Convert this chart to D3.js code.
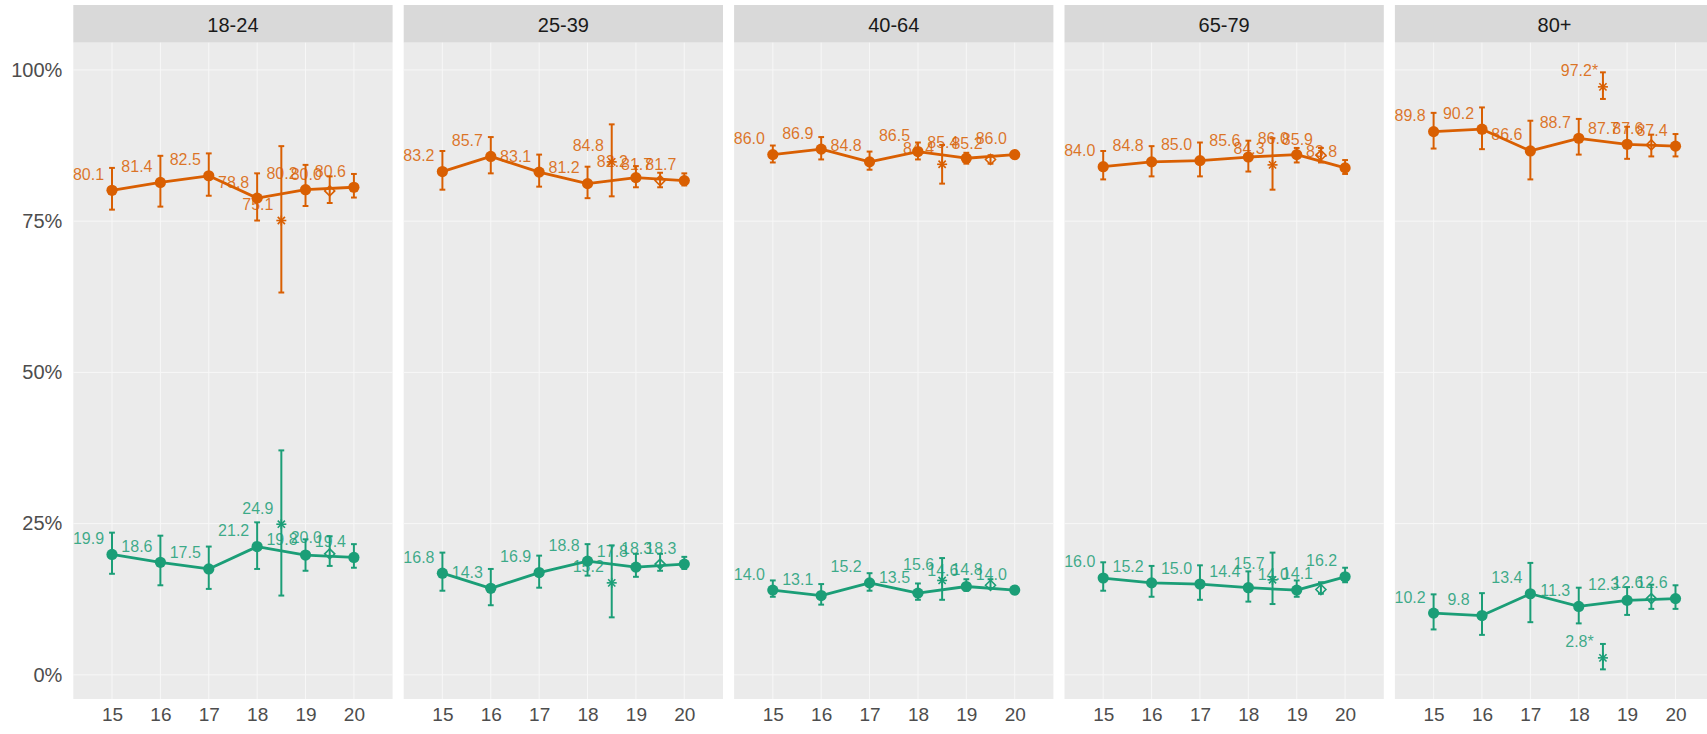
<!DOCTYPE html>
<html>
<head>
<meta charset="utf-8">
<script src="https://cdn.jsdelivr.net/npm/d3@7"></script>
<style>
  html, body { margin: 0; padding: 0; background: #ffffff; }
  svg { display: block; font-family: "Liberation Sans", Arial, Helvetica, sans-serif; }
</style>
</head>
<body>
<svg id="chart" width="1707" height="734"></svg>
<script>
// ---------- data ----------
const panels = ["18-24", "25-39", "40-64", "65-79", "80+"];
const years = [15, 16, 17, 18, 19, 20];
const yTicks = [0, 25, 50, 75, 100];
const starYear = 18.5;
const diamondYear = 19.5;

// orange series: main line values and 95% interval per panel
const orangeVal = [
  [80.1, 81.4, 82.5, 78.8, 80.2, 80.6],
  [83.2, 85.7, 83.1, 81.2, 82.2, 81.7],
  [86.0, 86.9, 84.8, 86.5, 85.4, 86.0],
  [84.0, 84.8, 85.0, 85.6, 86.0, 83.8],
  [89.8, 90.2, 86.6, 88.7, 87.7, 87.4]
];
const orangeLo = [
  [76.9, 77.4, 79.2, 75.1, 77.5, 78.9],
  [80.2, 82.9, 80.7, 78.8, 80.6, 80.9],
  [84.7, 85.2, 83.5, 85.2, 84.5, 85.4],
  [81.9, 82.4, 82.4, 83.2, 84.7, 82.8],
  [87.0, 86.9, 81.9, 86.0, 85.3, 85.7]
];
const orangeHi = [
  [83.8, 85.8, 86.2, 82.9, 84.3, 82.8],
  [86.6, 88.9, 86.0, 84.0, 84.1, 82.9],
  [87.5, 88.9, 86.5, 88.0, 86.3, 86.6],
  [86.6, 87.4, 88.0, 88.3, 87.1, 85.1],
  [92.9, 93.8, 91.6, 91.9, 90.6, 89.4]
];
const orangeStar   = [75.1, 84.8, 84.4, 84.3, 97.2];
const orangeStarLo = [63.2, 79.1, 81.2, 80.2, 95.2];
const orangeStarHi = [87.4, 91.0, 87.6, 88.7, 99.6];
const orangeDia    = [80.0, 81.7, 85.2, 85.9, 87.6];
const orangeDiaLo  = [78.0, 80.6, 84.5, 84.7, 85.7];
const orangeDiaHi  = [82.4, 83.0, 85.9, 87.1, 89.3];

// green series
const greenVal = [
  [19.9, 18.6, 17.5, 21.2, 19.8, 19.4],
  [16.8, 14.3, 16.9, 18.8, 17.8, 18.3],
  [14.0, 13.1, 15.2, 13.5, 14.6, 14.0],
  [16.0, 15.2, 15.0, 14.4, 14.0, 16.2],
  [10.2, 9.8, 13.4, 11.3, 12.3, 12.6]
];
const greenLo = [
  [16.7, 14.8, 14.2, 17.5, 17.2, 17.7],
  [13.9, 11.5, 14.4, 16.4, 16.2, 17.5],
  [12.9, 11.6, 13.9, 12.4, 13.9, 13.4],
  [13.9, 12.9, 12.4, 12.1, 12.9, 15.3],
  [7.5, 6.6, 8.7, 8.5, 9.9, 10.9]
];
const greenHi = [
  [23.5, 23.0, 21.2, 25.2, 22.4, 21.6],
  [20.2, 17.5, 19.7, 21.6, 20.0, 19.5],
  [15.6, 15.0, 16.8, 15.1, 15.8, 14.6],
  [18.6, 18.0, 18.1, 17.1, 15.6, 17.7],
  [13.3, 13.5, 18.5, 14.4, 14.5, 14.8]
];
const greenStar   = [24.9, 15.2, 15.6, 15.7, 2.8];
const greenStarLo = [13.1, 9.5, 12.4, 11.7, 0.9];
const greenStarHi = [37.1, 21.4, 19.3, 20.2, 5.1];
const greenDia    = [20.0, 18.3, 14.8, 14.1, 12.6];
const greenDiaLo  = [18.0, 17.2, 14.3, 13.4, 10.9];
const greenDiaHi  = [22.9, 20.0, 15.8, 15.3, 14.9];

const starSignificant = [false, false, false, false, true];

// ---------- layout ----------
const W = 1707, H = 734;
const panelLeft0 = 73.3, panelStep = 330.4, panelW = 319.3;
const stripTop = 5, panelTop = 42.7, panelBottom = 699;
const ORANGE = "#d95f02", GREEN = "#1b9e77";

const svg = d3.select("#chart");

const y = d3.scaleLinear().domain([-4, 104.5]).range([panelBottom, panelTop]);
const x = d3.scaleLinear().domain([14.2, 20.8]).range([0, panelW]);

// y axis labels (left of first panel)
const yAxis = d3.axisLeft(y).tickValues(yTicks).tickFormat(d => d + "%").tickSize(0).tickPadding(11);
const yg = svg.append("g").attr("transform", `translate(${panelLeft0},0)`).call(yAxis);
yg.select(".domain").remove();
yg.selectAll("text").attr("fill", "#4d4d4d").style("font-size", "20px")
  .style("font-family", "'Liberation Sans', Arial, sans-serif");

function series(g, color, vals, lo, hi, sv, slo, shi, dv, dlo, dhi, sig) {
  const pts = years.map((yr, i) => ({x: yr, v: vals[i], lo: lo[i], hi: hi[i]}));
  const star = {x: starYear, v: sv, lo: slo, hi: shi};
  const dia = {x: diamondYear, v: dv, lo: dlo, hi: dhi};
  const all = pts.concat([star, dia]);
  const cap = 0.06;

  // error bars
  const eb = g.append("g").attr("stroke", color).attr("stroke-width", 2).attr("fill", "none");
  all.forEach(d => {
    eb.append("line").attr("x1", x(d.x)).attr("x2", x(d.x)).attr("y1", y(d.lo)).attr("y2", y(d.hi));
    eb.append("line").attr("x1", x(d.x - cap)).attr("x2", x(d.x + cap)).attr("y1", y(d.lo)).attr("y2", y(d.lo));
    eb.append("line").attr("x1", x(d.x - cap)).attr("x2", x(d.x + cap)).attr("y1", y(d.hi)).attr("y2", y(d.hi));
  });

  // line
  const line = d3.line().x(d => x(d.x)).y(d => y(d.v));
  g.append("path").datum(pts).attr("d", line).attr("fill", "none")
    .attr("stroke", color).attr("stroke-width", 2.8).attr("stroke-linejoin", "round");

  // points
  g.selectAll(null).data(pts).enter().append("circle")
    .attr("cx", d => x(d.x)).attr("cy", d => y(d.v)).attr("r", 5.6).attr("fill", color);

  // star (asterisk)
  const sx = x(star.x), sy = y(star.v), s = 5, s2 = 3.6;
  const st = g.append("g").attr("stroke", color).attr("stroke-width", 1.6);
  st.append("line").attr("x1", sx - s).attr("x2", sx + s).attr("y1", sy).attr("y2", sy);
  st.append("line").attr("x1", sx).attr("x2", sx).attr("y1", sy - s).attr("y2", sy + s);
  st.append("line").attr("x1", sx - s2).attr("x2", sx + s2).attr("y1", sy - s2).attr("y2", sy + s2);
  st.append("line").attr("x1", sx - s2).attr("x2", sx + s2).attr("y1", sy + s2).attr("y2", sy - s2);

  // diamond (open)
  const dx = x(dia.x), dy = y(dia.v), r = 5;
  g.append("path")
    .attr("d", `M${dx},${dy - r}L${dx + r},${dy}L${dx},${dy + r}L${dx - r},${dy}Z`)
    .attr("fill", "none").attr("stroke", color).attr("stroke-width", 1.6);

  // labels
  const labs = all.map(d => ({x: d.x, v: d.v, t: d3.format(".1f")(d.v) + (d === star && sig ? "*" : "")}));
  g.selectAll(null).data(labs).enter().append("text")
    .attr("x", d => x(d.x - 0.485)).attr("y", d => y(d.v + 2.65))
    .attr("text-anchor", "middle").attr("dominant-baseline", "central")
    .attr("fill", color).attr("fill-opacity", 0.85).style("font-size", "16px")
    .text(d => d.t);
}

panels.forEach((name, p) => {
  const left = panelLeft0 + p * panelStep;
  const g = svg.append("g").attr("transform", `translate(${left},0)`);

  // strip
  g.append("rect").attr("x", 0).attr("y", stripTop).attr("width", panelW).attr("height", panelTop - stripTop).attr("fill", "#d9d9d9");
  g.append("text").attr("x", panelW / 2).attr("y", (stripTop + panelTop) / 2 + 1)
    .attr("text-anchor", "middle").attr("dominant-baseline", "central")
    .attr("fill", "#1a1a1a").style("font-size", "20px").text(name);

  // panel background
  g.append("rect").attr("x", 0).attr("y", panelTop).attr("width", panelW).attr("height", panelBottom - panelTop).attr("fill", "#ebebeb");

  // grid
  g.selectAll(null).data(yTicks).enter().append("line")
    .attr("x1", 0).attr("x2", panelW).attr("y1", d => y(d)).attr("y2", d => y(d))
    .attr("stroke", "#f7f7f7").attr("stroke-width", 1);
  g.selectAll(null).data(years).enter().append("line")
    .attr("x1", d => x(d)).attr("x2", d => x(d)).attr("y1", panelTop).attr("y2", panelBottom)
    .attr("stroke", "#f7f7f7").attr("stroke-width", 1);

  // x axis
  const xAxis = d3.axisBottom(x).tickValues(years).tickFormat(d3.format("d")).tickSize(0).tickPadding(9);
  const xg = g.append("g").attr("transform", `translate(0,${panelBottom})`).call(xAxis);
  xg.select(".domain").remove();
  xg.selectAll("text").attr("fill", "#4d4d4d").style("font-size", "19px")
    .style("font-family", "'Liberation Sans', Arial, sans-serif");

  const layer = g.append("g");
  series(layer, ORANGE, orangeVal[p], orangeLo[p], orangeHi[p],
         orangeStar[p], orangeStarLo[p], orangeStarHi[p],
         orangeDia[p], orangeDiaLo[p], orangeDiaHi[p], starSignificant[p]);
  series(layer, GREEN, greenVal[p], greenLo[p], greenHi[p],
         greenStar[p], greenStarLo[p], greenStarHi[p],
         greenDia[p], greenDiaLo[p], greenDiaHi[p], starSignificant[p]);
});
</script>
</body>
</html>
